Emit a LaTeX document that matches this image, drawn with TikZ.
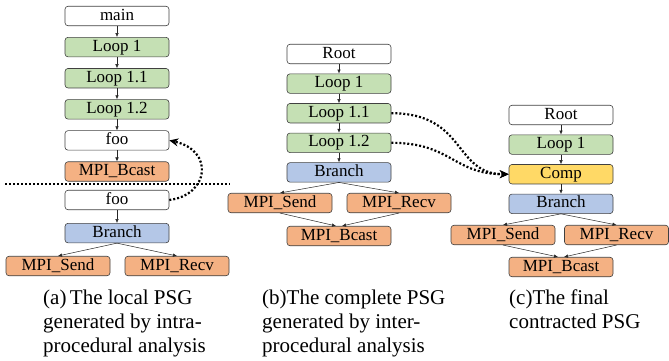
\documentclass[tikz,border=0pt]{standalone}
\usepackage{fontspec}
\setmainfont{Liberation Serif}
\usepackage{tikz}
\usetikzlibrary{positioning}
\usetikzlibrary{arrows.meta}
\definecolor{loopgreen}{HTML}{C5E0B4}
\definecolor{mpiorange}{HTML}{F4B183}
\definecolor{branchblue}{HTML}{B4C7E7}
\definecolor{compyellow}{HTML}{FFD966}
\tikzset{
  psg/.style={draw=black!75, line width=0.6pt, rounded corners=3pt, minimum width=104pt,
    minimum height=19.5pt, inner sep=0pt, text height=11.5pt, text depth=3.5pt,
    font=\fontsize{17}{20}\selectfont},
  loopnode/.style={psg, fill=loopgreen},
  mpinode/.style={psg, fill=mpiorange},
  branchnode/.style={psg, fill=branchblue},
  compnode/.style={psg, fill=compyellow},
  flow/.style={-{Latex[length=4pt,width=3.5pt]}, line width=0.5pt, black!85},
  calledge/.style={-{Stealth[length=9pt,width=8pt]}, line width=2.2pt, dash pattern=on 2pt off 2pt},
  psgcaption/.style={anchor=north west, align=left, inner sep=0pt, font=\fontsize{21}{24}\selectfont}
}
\begin{document}
\begin{tikzpicture}[x=1pt,y=-1pt]
\useasboundingbox (0,0) rectangle (669,360);
% (a) local PSG
\node[psg] (aMain) at (117,16) {main};
\node[loopnode, below=11pt of aMain] (aL1) {Loop 1};
\node[loopnode, below=11pt of aL1] (aL11) {Loop 1.1};
\node[loopnode, below=11pt of aL11] (aL12) {Loop 1.2};
\node[psg, below=11pt of aL12] (aFoo) {foo};
\node[mpinode, below=11pt of aFoo] (aBcast) {MPI\_Bcast};
\draw[line width=1.5pt, dash pattern=on 1.5pt off 2.5pt] (5,184) -- (230,184);
\node[psg] (aFooDef) at (117,200) {foo};
\node[branchnode, below=13pt of aFooDef] (aBranch) {Branch};
\node[mpinode] (aSend) at (58,266) {MPI\_Send};
\node[mpinode] (aRecv) at (177,266) {MPI\_Recv};
\foreach \u/\v in {aMain/aL1, aL1/aL11, aL11/aL12, aL12/aFoo, aFoo/aBcast, aFooDef/aBranch,
  aBranch/aSend, aBranch/aRecv}
  \draw[flow] (\u.south) -- (\v.north);
\draw[calledge] (aFooDef.east) .. controls +(40,-5) and +(45,10) .. (aFoo.east);
\node[psgcaption] (aCap) at (43,290) {(a)\,The local PSG\\generated by intra-\\procedural analysis};
% (b) complete PSG
\node[psg] (bRoot) at (339,54) {Root};
\node[loopnode, below=9.5pt of bRoot] (bL1) {Loop 1};
\node[loopnode, below=9.5pt of bL1] (bL11) {Loop 1.1};
\node[loopnode, below=9.5pt of bL11] (bL12) {Loop 1.2};
\node[branchnode, below=9.5pt of bL12] (bBranch) {Branch};
\node[mpinode] (bSend) at (280,203) {MPI\_Send};
\node[mpinode] (bRecv) at (399,203) {MPI\_Recv};
\node[mpinode] (bBcast) at (339,236) {MPI\_Bcast};
\foreach \u/\v in {bRoot/bL1, bL1/bL11, bL11/bL12, bL12/bBranch, bBranch/bSend, bBranch/bRecv}
  \draw[flow] (\u.south) -- (\v.north);
\draw[flow] (bSend.south) -- ([xshift=-3pt]bBcast.north);
\draw[flow] (bRecv.south) -- ([xshift=3pt]bBcast.north);
\node[psgcaption] (bCap) at (262,290) {(b)The complete PSG\\generated by inter-\\procedural analysis};
% (c) contracted PSG
\node[psg] (cRoot) at (561,115) {Root};
\node[loopnode, below=9.5pt of cRoot] (cL1) {Loop 1};
\node[compnode, below=9.5pt of cL1] (cComp) {Comp};
\node[branchnode, below=9.5pt of cComp] (cBranch) {Branch};
\node[mpinode] (cSend) at (503,235) {MPI\_Send};
\node[mpinode] (cRecv) at (616.5,235) {MPI\_Recv};
\node[mpinode] (cBcast) at (561,267) {MPI\_Bcast};
\foreach \u/\v in {cRoot/cL1, cL1/cComp, cComp/cBranch, cBranch/cSend, cBranch/cRecv}
  \draw[flow] (\u.south) -- (\v.north);
\draw[flow] (cSend.south) -- ([xshift=-3pt]cBcast.north);
\draw[flow] (cRecv.south) -- ([xshift=3pt]cBcast.north);
\node[psgcaption] (cCap) at (509,290) {(c)The final\\contracted PSG};
% loops folded into Comp
\draw[calledge] (bL11.east) .. controls +(75,0) and +(-55,0) .. (cComp.west);
\draw[calledge] (bL12.east) .. controls +(60,0) and +(-55,0) .. (cComp.west);
\end{tikzpicture}
\end{document}
